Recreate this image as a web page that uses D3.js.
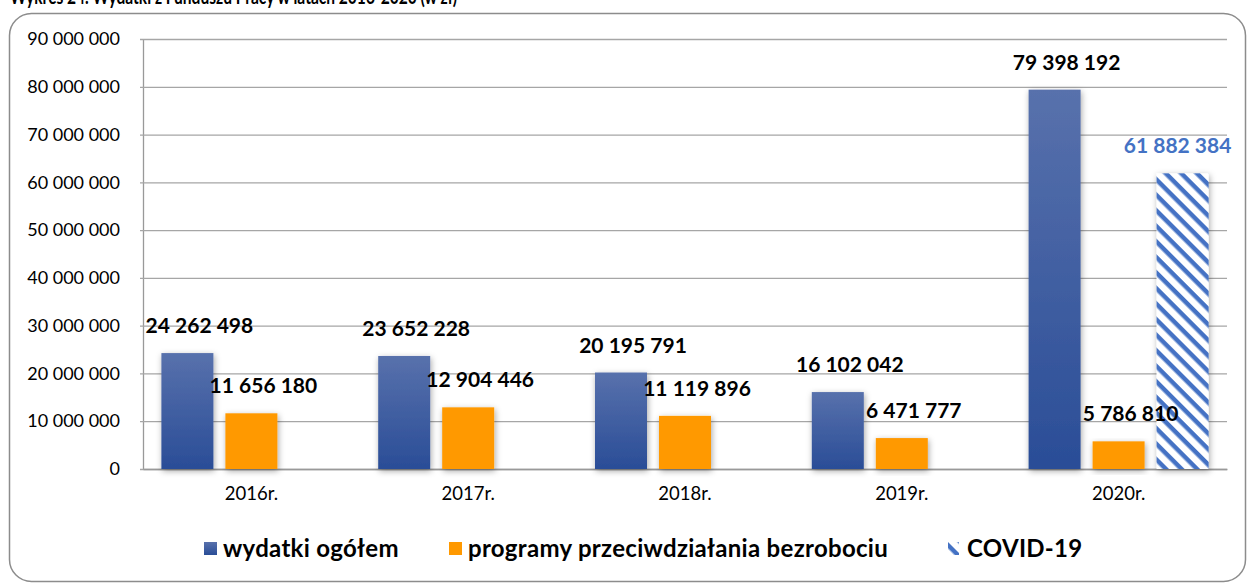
<!DOCTYPE html>
<html>
<head>
<meta charset="utf-8">
<script src="https://cdn.jsdelivr.net/npm/d3@7"></script>
<style>
  html, body { margin: 0; padding: 0; background: #fff; overflow: hidden; }
  text { font-family: Lato, "Open Sans", sans-serif; }
</style>
</head>
<body>
<div id="chart"></div>
<script>
// Data
var years = ["2016r.", "2017r.", "2018r.", "2019r.", "2020r."];
var wydatki = [24262498, 23652228, 20195791, 16102042, 79398192];
var programy = [11656180, 12904446, 11119896, 6471777, 5786810];
var covid = [null, null, null, null, 61882384];
var seriesNames = ["wydatki ogółem", "programy przeciwdziałania bezrobociu", "COVID-19"];
var yTicks = [0, 10000000, 20000000, 30000000, 40000000, 50000000, 60000000, 70000000, 80000000, 90000000];
var title = "Wykres 24. Wydatki z Funduszu Pracy w latach 2016-2020 (w zł)";

var w = 1247, h = 584;

var svg = d3.select("#chart").append("svg")
    .attr("width", w)
    .attr("height", h);

var defs = svg.append("defs");

// blue gradient for bars
var grad = defs.append("linearGradient")
    .attr("id", "blueGrad")
    .attr("x1", 0).attr("y1", 0).attr("x2", 0).attr("y2", 1);
grad.append("stop").attr("offset", "0%").attr("stop-color", "#5871AC");
grad.append("stop").attr("offset", "100%").attr("stop-color", "#2A4D97");

// stripes for covid
var pat = defs.append("pattern")
    .attr("id", "stripes")
    .attr("patternUnits", "userSpaceOnUse")
    .attr("width", 11)
    .attr("height", 11)
    .attr("patternTransform", "rotate(45)");
pat.append("rect").attr("width", 11).attr("height", 11).attr("fill", "#fff");
pat.append("rect").attr("width", 11).attr("height", 4.5).attr("fill", "#4472C4");

var shadow = defs.append("filter")
    .attr("id", "shadow")
    .attr("x", "-30%").attr("y", "-10%").attr("width", "160%").attr("height", "130%");
shadow.append("feDropShadow")
    .attr("dx", 1).attr("dy", 2)
    .attr("stdDeviation", 3)
    .attr("flood-color", "#000")
    .attr("flood-opacity", 0.35);

// title (cut off at top)
svg.append("text")
    .attr("x", 10)
    .attr("y", 4)
    .attr("textLength", 447)
    .attr("lengthAdjust", "spacingAndGlyphs")
    .style("font-size", "20px")
    .style("font-weight", "bold")
    .attr("fill", "#000")
    .text(title);

// frame
svg.append("rect")
    .attr("x", 9.5)
    .attr("y", 13.5)
    .attr("width", 1236)
    .attr("height", 568)
    .attr("rx", 22)
    .attr("fill", "none")
    .attr("stroke", "#8c8c8c")
    .attr("stroke-width", 1.5);

// scales
var plotL = 143, plotR = 1227, plotT = 39, plotB = 469;

var y = d3.scaleLinear().domain([0, 90000000]).range([plotB, plotT]);
var x = d3.scaleBand().domain(years).range([plotL, plotR]);
var xs = d3.scaleBand().domain([0, 1, 2]).range([0, x.bandwidth()])
    .paddingInner(0.1875).paddingOuter(0.2875);

var fmt = function (v) {
    return d3.format(",")(v).replace(/,/g, " ");
};

// gridlines
var yAxis = d3.axisLeft(y)
    .tickValues(yTicks)
    .tickSize(-(plotR - plotL))
    .tickSizeOuter(0)
    .tickPadding(23)
    .tickFormat(fmt);

var gy = svg.append("g")
    .attr("transform", "translate(" + plotL + ",0)")
    .call(yAxis);
gy.select(".domain").attr("stroke", "#999").attr("stroke-width", 1.3);
gy.selectAll(".tick line").attr("stroke", "#a6a6a6").attr("stroke-width", 1.3).attr("x1", -3);
gy.selectAll(".tick text")
    .attr("fill", "#000")
    .style("font-size", "18px")
    .style("font-family", "Lato, sans-serif");

// x labels
var gx = svg.append("g")
    .attr("transform", "translate(0," + plotB + ")")
    .call(d3.axisBottom(x).tickSize(0).tickPadding(18));
gx.select(".domain").attr("stroke", "#999").attr("stroke-width", 1.3);
gx.selectAll(".tick text")
    .attr("fill", "#000")
    .style("font-size", "18.5px")
    .style("font-family", "Lato, sans-serif");

// bars
var fills = ["url(#blueGrad)", "#FF9900", "url(#stripes)"];
var series = [wydatki, programy, covid];

var barData = [];
series.forEach(function (vals, s) {
    vals.forEach(function (v, i) {
        if (v != null) barData.push({ year: years[i], s: s, v: v });
    });
});

svg.append("g").selectAll("rect")
    .data(barData)
    .enter()
    .append("rect")
    .attr("x", d => x(d.year) + xs(d.s))
    .attr("y", d => y(d.v))
    .attr("width", xs.bandwidth())
    .attr("height", d => plotB - y(d.v))
    .attr("fill", d => fills[d.s])
    .attr("filter", "url(#shadow)");

// labels
svg.append("g").selectAll("text")
    .data(barData)
    .enter()
    .append("text")
    .attr("x", d => x(d.year) + xs(d.s) + xs.bandwidth() / 2 + (d.s == 2 ? -5 : 12))
    .attr("y", d => y(d.v) - 20)
    .attr("text-anchor", "middle")
    .style("font-size", "21px")
    .style("font-weight", "bold")
    .attr("fill", d => d.s == 2 ? "#4472C4" : "#000")
    .text(d => fmt(d.v));

// legend
var legendX = [204, 449, 948];
var lg = svg.append("g");
seriesNames.forEach(function (name, i) {
    var item = lg.append("g").attr("transform", "translate(" + legendX[i] + ",542)");
    item.append("rect")
        .attr("width", i == 2 ? 11 : 13)
        .attr("height", 13)
        .attr("fill", fills[i]);
    item.append("text")
        .attr("x", 19)
        .attr("y", 7)
        .attr("dy", "0.35em")
        .style("font-size", "24px")
        .style("font-weight", "bold")
        .style("letter-spacing", "0.3px")
        .attr("fill", "#000")
        .text(name);
});
</script>
</body>
</html>
